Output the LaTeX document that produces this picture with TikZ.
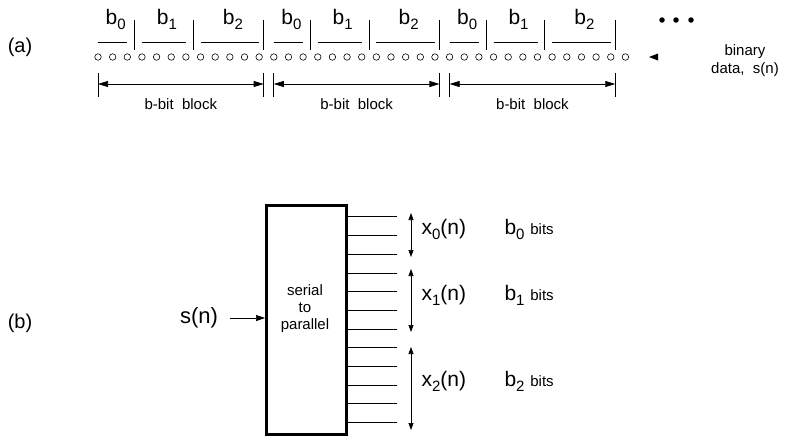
\documentclass[tikz,border=0pt]{standalone}
\usepackage{fontspec}
\setmainfont{Liberation Sans}
\usetikzlibrary{arrows.meta}
\newcommand\sbs[1]{\raisebox{-5pt}{\fontsize{15}{15}\selectfont #1}}
\newcommand\fs[1]{\fontsize{#1}{#1}\selectfont}
\begin{document}
\begin{tikzpicture}[x=1pt,y=-1pt,
  bit/.style={circle,draw,inner sep=0pt,minimum size=6.5pt,line width=0.6pt},
  bar/.style={line width=0.7pt},
  ln/.style={line width=0.6pt},
  dbl/.style={line width=0.7pt,{Triangle[length=10pt,width=6pt]}-{Triangle[length=10pt,width=6pt]}},
  dbls/.style={line width=0.7pt,{Triangle[length=7pt,width=5pt]}-{Triangle[length=7pt,width=5pt]}},
  arr/.style={line width=0.7pt,-{Triangle[length=9pt,width=6pt]}},
  blab/.style={font=\fs{21}},
  small/.style={font=\fs{15}},
  dot/.style={circle,fill,inner sep=0pt,minimum size=5.5pt}]
\useasboundingbox (0,0) rectangle (785,440);
% (a)
\node[font=\fs{20}] (la) at (20,47) {(a)};
\foreach \i in {0,...,36} \node[bit] (c\i) at ({98+14.65*\i},57) {};
\foreach \k in {0,1,2}{
  \pgfmathtruncatemacro\s{12*\k}
  \pgfmathtruncatemacro\ea{\s+2}
  \pgfmathtruncatemacro\sb{\s+3}
  \pgfmathtruncatemacro\eb{\s+6}
  \pgfmathtruncatemacro\sc{\s+7}
  \pgfmathtruncatemacro\ec{\s+11}
  \pgfmathsetmacro\xs{98+14.65*\s}
  \pgfmathsetmacro\xa{98+14.65*(\s+2.5)}
  \pgfmathsetmacro\xb{98+14.65*(\s+6.5)}
  \pgfmathsetmacro\xe{98+14.65*\ec+4.5}
  % group underlines
  \draw[ln] (c\s.center |- 0,42) -- (c\ea.center |- 0,42);
  \draw[ln] (c\sb.center |- 0,42) -- (c\eb.center |- 0,42);
  \draw[ln] (c\sc.center |- 0,42) -- (c\ec.center |- 0,42);
  % labels
  \node[blab] (g0\k) at ({98+14.65*(\s+1)+3},19) {b\sbs{0}};
  \node[blab] (g1\k) at ({98+14.65*(\s+4.5)+3},19) {b\sbs{1}};
  \node[blab] (g2\k) at ({98+14.65*(\s+9)+3},19) {b\sbs{2}};
  % separators
  \draw[bar] (\xa,20) -- (\xa,50);
  \draw[bar] (\xb,20) -- (\xb,50);
  \draw[bar] (\xe,20) -- (\xe,50);
  % block bars and arrow
  \coordinate (bs\k) at (\xs,84);
  \coordinate (be\k) at (\xe,84);
  \draw[bar] (\xs,73) -- (\xs,97);
  \draw[bar] (\xe,73) -- (\xe,97);
  \draw[dbl] (bs\k) -- (be\k);
  \node[small] (bl\k) at ({(\xs+\xe)/2},104) {b-bit\ \ block};
}
\node[dot] (d1) at (662,20) {};
\node[dot] (d2) at (676,20) {};
\node[dot] (d3) at (691,20) {};
\fill (649,57) -- (658,53.5) -- (658,60.5) -- cycle;
\node[small,align=center] (bin) at (745,61) {binary\\[3pt]data,\ \ s(n)};
% (b)
\node[font=\fs{20}] (lb) at (20,323) {(b)};
\node[draw,line width=2.5pt,minimum width=80pt,minimum height=229pt,inner sep=0pt,anchor=north west] (sp) at (265,204) {};
\node[small,align=center] (spt) at (305,309) {serial\\[2pt]to\\[2pt]parallel};
\node[font=\fs{22}] (sn) at (199,318) {s(n)};
\draw[arr] ([xshift=9pt]sn.east) -- (sp.west |- sn);
\foreach \k in {0,...,11}{
  \coordinate (o\k) at (345,{216.7+18.7*\k});
  \draw[ln] (o\k) -- ++(52,0);
}
\coordinate (x0a) at (411,213); \coordinate (x0b) at (411,257);
\coordinate (x1a) at (411,269); \coordinate (x1b) at (411,332);
\coordinate (x2a) at (411,347); \coordinate (x2b) at (411,430);
\draw[dbls] (x0a) -- (x0b);
\draw[dbls] (x1a) -- (x1b);
\draw[dbls] (x2a) -- (x2b);
\node[font=\fs{21},anchor=west] (xl0) at (418,229) {x\sbs{0}(n)};
\node[font=\fs{21},anchor=west] (xl1) at (418,295) {x\sbs{1}(n)};
\node[font=\fs{21},anchor=west] (xl2) at (418,381) {x\sbs{2}(n)};
\node[font=\fs{21},anchor=west] (bb0) at (501,229) {b\sbs{0}\ {\fs{15}bits}};
\node[font=\fs{21},anchor=west] (bb1) at (501,295) {b\sbs{1}\ {\fs{15}bits}};
\node[font=\fs{21},anchor=west] (bb2) at (501,381) {b\sbs{2}\ {\fs{15}bits}};
\end{tikzpicture}
\end{document}
